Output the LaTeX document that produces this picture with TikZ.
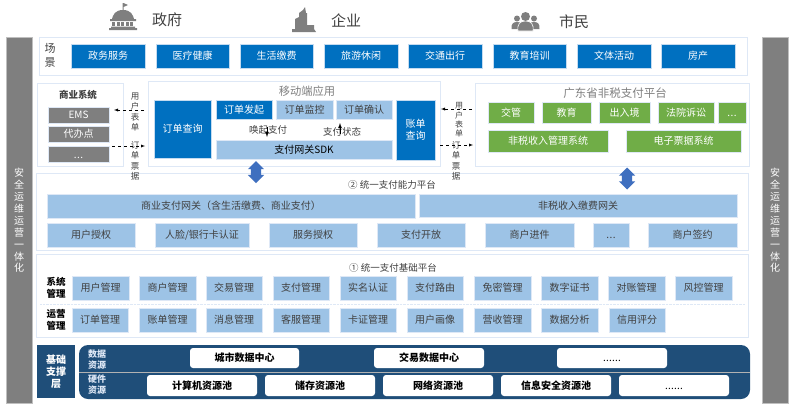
\documentclass[tikz,border=0pt]{standalone}
\usepackage{fontspec}
\setmainfont{Noto Sans CJK SC}
\usetikzlibrary{shapes.arrows}
\definecolor{panelline}{HTML}{DEE8F6}
\definecolor{darkblue}{HTML}{0070C0}
\definecolor{lightblue}{HTML}{9DC3E6}
\definecolor{leafgreen}{HTML}{70AD47}
\definecolor{navy}{HTML}{1F4E79}
\definecolor{midgray}{HTML}{7F7F7F}
\definecolor{inktext}{HTML}{404040}
\definecolor{arrowblue}{HTML}{3F6FBF}
\newcommand{\etcshort}{\vphantom{国}.\kern0.4pt.\kern0.4pt.}
\newcommand{\etclong}{\vphantom{国}{\normalfont .\kern0.2pt.\kern0.2pt.\kern0.2pt.\kern0.2pt.\kern0.2pt.}}
\tikzset{
	panel/.style={draw=panelline,line width=0.8pt,fill=white},
	boxbase/.style={inner sep=0pt,font=\fontsize{10}{12}\selectfont},
	bluebox/.style={boxbase,fill=darkblue,draw=lightblue!60,line width=0.4pt,text=white},
	lightbox/.style={boxbase,fill=lightblue,draw=panelline,line width=0.4pt,text=inktext},
	greenbox/.style={boxbase,fill=leafgreen,draw=panelline,line width=0.4pt,text=white},
	graybox/.style={boxbase,fill=midgray,draw=panelline,line width=0.4pt,text=white},
	whitebox/.style={boxbase,fill=white,rounded corners=3pt,text=black,font=\fontsize{10}{12}\selectfont\bfseries},
	sidebar/.style={fill=midgray,draw=lightgray,line width=0.4pt},
	sidetext/.style={inner sep=0pt,align=center,text=white,font=\fontsize{10}{11.9}\selectfont},
	flowtext/.style={inner sep=0pt,align=center,text=inktext,font=\fontsize{8.5}{10.3}\selectfont},
	flow/.style={dashed,thin,-latex},
	tag/.style={inner sep=0pt,align=center,text=black,font=\fontsize{9.5}{12.5}\selectfont\bfseries},
	fat/.style={double arrow,rotate=90,fill=arrowblue,inner xsep=0pt,inner ysep=5pt,minimum height=22pt,double arrow head extend=3pt}
}
\begin{document}
\begin{tikzpicture}[x=1pt,y=-1pt,font=\fontsize{10}{12}\selectfont]
	\useasboundingbox (0,0) rectangle (796,405);
	\path (144,110) coordinate (U1a) (114,110) coordinate (U1b)
		(112,146) coordinate (T1a) (145,146) coordinate (T1b)
		(472,109) coordinate (U2a) (441,109) coordinate (U2b)
		(440,145) coordinate (T2a) (473,145) coordinate (T2b)
		(267,127) coordinate (Ca) (267,137) coordinate (Cb)
		(340,134) coordinate (Sa) (340,123) coordinate (Sb);
	% top icons
	\fill[midgray] (122.5,10) rectangle (123.5,3) -- (128,5) -- (123.5,7) -- (123.5,10) (123,10) .. controls (115,10) and (113,15) .. (112,19) -- (134,19) .. controls (133,15) and (131,10) .. (123,10) (110,19) rectangle (136,21);
	\foreach \x in {112,116.5,121,125.5,130}{\fill[midgray] (\x,22) rectangle ++(3,4);}
	\fill[midgray] (111,26.5) rectangle (135,28) (109,28) rectangle (137,30);
	\fill[midgray] (292,32) -- (292,29) -- (295,29) -- (295,19) -- (299,17) -- (299,13) -- (303,10) -- (305,7) -- (306,13) -- (307,13) -- (307,25) -- (314,25) -- (314,29) -- (316,32) -- cycle;
	\foreach \x/\r in {517/3,534/3}{
		\fill[midgray] (\x,18.5) circle (\r);
		\fill[midgray] (\x-5.5,29) .. controls (\x-6,24) and (\x-4,22) .. (\x,22) .. controls (\x+4,22) and (\x+6,24) .. (\x+5.5,29) -- cycle;
	}
	\fill[midgray,draw=white,line width=0.6pt] (525.5,31) -- (518,31) .. controls (517,24) and (520,21) .. (525.5,21) .. controls (531,21) and (534,24) .. (533,31) -- cycle;
	\fill[midgray] (525.5,16.5) circle (4.5);
	\foreach \n/\px/\py/\t in {gov/167/20/政府,biz/346/21/企业,folk/574/22/市民}{
		\node[inner sep=0pt,text=inktext,font=\fontsize{15}{18}\selectfont] (\n) at (\px,\py){\t};
	}
	% side bars
	\draw[sidebar] (6,37) rectangle (32,403) (762,37) rectangle (788,403);
	\foreach \n/\px in {leftbar/19,rightbar/775}{
		\node[sidetext] (\n) at (\px,220.5){安\\全\\运\\维\\运\\营\\一\\体\\化};
	}
	% panels
	\draw[panel] (39,37) rectangle (747,75);
	\draw[panel] (37,83) rectangle (123,166);
	\draw[panel] (148,81) rectangle (440,166);
	\draw[panel] (475,83) rectangle (749,166);
	\draw[panel] (36,173) rectangle (748,250);
	\draw[panel] (36,254) rectangle (748,337);
	\draw[densely dotted,panelline] (40,304) -- (745,304);
	% scenes
	\node[inner sep=0pt,align=center,text=inktext,font=\fontsize{11}{14.5}\selectfont] (scene) at (50,55.5){场\\景};
	\foreach \n/\a/\b/\t in {s1/71/145/政务服务,s2/156/229/医疗健康,s3/240/313/生活缴费,s4/324/398/旅游休闲,s5/408/482/交通出行,s6/493/566/教育培训,s7/577/651/文体活动,s8/661/735/房产}{
		\node[bluebox,minimum width={(\b-\a)*1pt},minimum height=24pt] (\n) at ({(\a+\b)/2},56){\t};
	}
	% business systems
	\node[inner sep=0pt,text=inktext,font=\fontsize{9.5}{12}\selectfont\bfseries] (bizsys) at (78,95){商业系统};
	\foreach \n/\cy/\t in {ems/115/EMS,agent/134/代办点,more/154.5/\etcshort}{
		\node[graybox,minimum width=61pt,minimum height=16pt] (\n) at (78.5,\cy){\t};
	}
	% mobile
	\node[inner sep=0pt,text=gray,font=\fontsize{11.3}{14}\selectfont] (mobile) at (307,91){移动端应用};
	\node[bluebox,minimum width=57pt,minimum height=58pt] (query) at (182.5,129){订单查询};
	\node[bluebox,minimum width=39pt,minimum height=60pt,align=center] (bill) at (415.5,130){账单\\查询};
	\node[bluebox,minimum width=56pt,minimum height=19pt] (start) at (244,109.5){订单发起};
	\node[lightbox,minimum width=57pt,minimum height=19pt] (watch) at (304.5,109.5){订单监控};
	\node[lightbox,minimum width=56pt,minimum height=19pt] (confirm) at (364,109.5){订单确认};
	\node[lightbox,text=black,minimum width=176pt,minimum height=19pt] (sdk) at (304,149.5){支付网关SDK};
	\node[inner sep=0pt,text=inktext,font=\fontsize{9.5}{12}\selectfont] (call) at (268,130){唤起支付};
	\node[inner sep=0pt,text=inktext,font=\fontsize{9.5}{12}\selectfont] (state) at (342,132){支付状态};
	\draw[-latex,thick] (Ca)--(Cb);
	\draw[-latex,thick] (Sa)--(Sb);
	% tax platform
	\node[inner sep=0pt,text=gray,font=\fontsize{11.5}{14}\selectfont] (taxplat) at (615,93){广东省非税支付平台};
	\foreach \n/\a/\b/\t in {g1/488/534/交管,g2/542/591/教育,g3/599/650/出入境,g4/658/714/法院诉讼,g5/718/746/\etcshort}{
		\node[greenbox,minimum width={(\b-\a)*1pt},minimum height=20.5pt] (\n) at ({(\a+\b)/2},112.5){\t};
	}
	\node[greenbox,minimum width=120pt,minimum height=22pt] (taxsys) at (548,141){非税收入管理系统};
	\node[greenbox,minimum width=115pt,minimum height=22pt] (billsys) at (683.5,141){电子票据系统};
	% flows
	\node[flowtext] (u1) at (135,112){用\\户\\表\\单};
	\node[flowtext] (t1) at (135,161){订\\单\\票\\据};
	\node[flowtext,font=\fontsize{8}{9.4}\selectfont] (u2) at (459,120){用\\户\\表\\单};
	\node[flowtext] (t2) at (456,161){订\\单\\票\\据};
	\draw[flow] (U1a)--(U1b);
	\draw[flow] (T1a)--(T1b);
	\draw[flow] (U2a)--(U2b);
	\draw[flow] (T2a)--(T2b);
	% capability platform
	\node[inner sep=0pt,text=inktext,font=\fontsize{9.5}{12}\selectfont] (cap) at (392,185){② 统一支付能力平台};
	\node[lightbox,minimum width=368pt,minimum height=24pt] (gw1) at (231,206){商业支付网关（含生活缴费、商业支付）};
	\node[lightbox,minimum width=318pt,minimum height=23pt] (gw2) at (578,205.5){非税收入缴费网关};
	\foreach \n/\a/\b/\t in {c1/47/135/用户授权,c2/155/249/{人脸/银行卡认证},c3/269/357/服务授权,c4/377/465/支付开放,c5/485/574/商户进件,c6/593/629/\etcshort,c7/648/737/商户签约}{
		\node[lightbox,minimum width={(\b-\a)*1pt},minimum height=24pt] (\n) at ({(\a+\b)/2},235){\t};
	}
	\node[fat] (arrowA) at (256,172){};
	\node[fat] (arrowB) at (627,178.5){};
	% base platform
	\node[inner sep=0pt,text=inktext,font=\fontsize{9.5}{12}\selectfont] (base) at (393,268){① 统一支付基础平台};
	\node[tag] (sysm) at (56,288){系统\\管理};
	\node[tag] (opsm) at (56,320){运营\\管理};
	\foreach \n/\a/\b/\t in {a1/72/129/用户管理,a2/139/196/商户管理,a3/206/262/交易管理,a4/273/329/支付管理,a5/340/396/实名认证,a6/407/463/支付路由,a7/474/531/免密管理,a8/541/598/数字证书,a9/608/665/对账管理,a10/675/732/风控管理}{
		\node[lightbox,minimum width={(\b-\a)*1pt},minimum height=24pt] (\n) at ({(\a+\b)/2},288){\t};
	}
	\foreach \n/\a/\b/\t in {b1/72/128/订单管理,b2/139/196/账单管理,b3/206/262/消息管理,b4/273/329/客服管理,b5/340/396/卡证管理,b6/407/463/用户画像,b7/474/531/营收管理,b8/541/598/数据分析,b9/609/665/信用评分}{
		\node[lightbox,minimum width={(\b-\a)*1pt},minimum height=24pt] (\n) at ({(\a+\b)/2},320){\t};
	}
	% support layer
	\node[fill=navy,inner sep=0pt,minimum width=38pt,minimum height=53pt,align=center,text=white,font=\fontsize{10}{11.8}\selectfont\bfseries] (support) at (56,371.5){基础\\支撑\\层};
	\fill[navy,rounded corners=9pt] (79,345) rectangle (750,399);
	\draw[gray!60,line width=0.6pt] (79,372) -- (750,372);
	\node[tag,text=panelline,font=\fontsize{9}{11}\selectfont\bfseries] (datares) at (97,360){数据\\资源};
	\node[tag,text=panelline,font=\fontsize{9}{11}\selectfont\bfseries] (hwres) at (97,385){硬件\\资源};
	\foreach \n/\a/\b/\t in {d1/190/299/城市数据中心,d2/374/484/交易数据中心,d3/557/667/\etclong}{
		\node[whitebox,minimum width={(\b-\a)*1pt},minimum height=20pt] (\n) at ({(\a+\b)/2},358){\t};
	}
	\foreach \n/\a/\b/\t in {e1/147/257/计算机资源池,e2/265/375/储存资源池,e3/383/493/网络资源池,e4/501/611/信息安全资源池,e5/619/729/\etclong}{
		\node[whitebox,minimum width={(\b-\a)*1pt},minimum height=21pt] (\n) at ({(\a+\b)/2},385.5){\t};
	}
\end{tikzpicture}
\end{document}
